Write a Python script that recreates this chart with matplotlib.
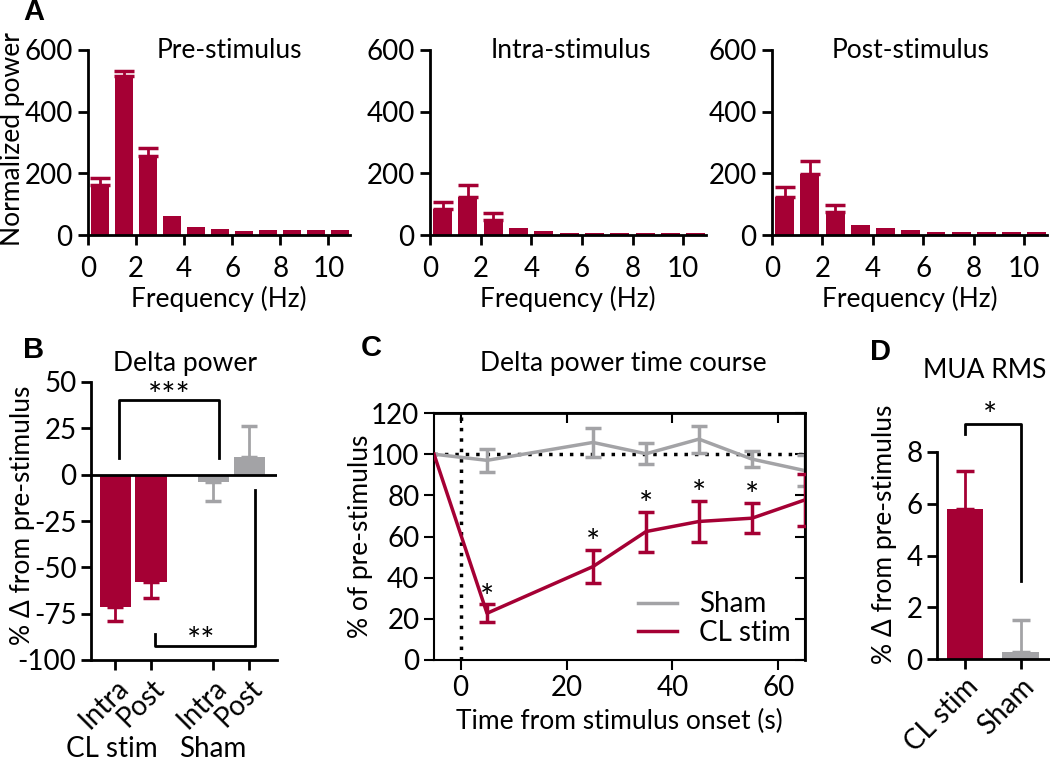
import numpy as np
import matplotlib
matplotlib.use('Agg')
import matplotlib.pyplot as plt
import matplotlib.transforms as mtransforms

plt.rcParams['font.family'] = ['Lato', 'DejaVu Sans']
plt.rcParams['font.size'] = 19
plt.rcParams['axes.unicode_minus'] = False
plt.rcParams['axes.linewidth'] = 2
plt.rcParams['xtick.major.width'] = 2
plt.rcParams['ytick.major.width'] = 2
plt.rcParams['xtick.major.size'] = 7
plt.rcParams['ytick.major.size'] = 7
plt.rcParams['xtick.labelsize'] = 20
plt.rcParams['ytick.labelsize'] = 20

RED = '#A50034'
GRAY = '#A3A3A6'
STAR_SIZE = 24

# --- data -------------------------------------------------------------
freq_bins = [0.5, 1.5, 2.5, 3.5, 4.5, 5.5, 6.5, 7.5, 8.5, 9.5, 10.5]
pre_power = [162, 516, 257, 63, 27, 18, 13, 16, 16, 16, 16]
pre_err = [22, 16, 24, 0, 0, 0, 0, 0, 0, 0, 0]
intra_power = [83, 124, 48, 22, 14, 5, 5, 5, 5, 5, 5]
intra_err = [25, 38, 24, 0, 0, 0, 0, 0, 0, 0, 0]
post_power = [124, 198, 75, 31, 22, 15, 11, 11, 11, 11, 11]
post_err = [31, 43, 22, 0, 0, 0, 0, 0, 0, 0, 0]

delta_labels = ['Intra', 'Post', 'Intra', 'Post']
delta_pos = [0, 1, 2.75, 3.75]
delta_vals = [-71.5, -58, -4, 9.3]
delta_err = [7.5, 8.6, 10.4, 16.7]
delta_groups = ['CL stim', 'CL stim', 'Sham', 'Sham']

time_s = [-5, 5, 25, 35, 45, 55, 65]
sham_mean = [100, 97, 105.7, 100.2, 107.3, 97.6, 92]
sham_err = [0, 5.7, 7, 5, 6.5, 3.9, 7.5]
cl_mean = [100, 22.7, 45.4, 62.4, 67.3, 68.9, 77.8]
cl_err = [0, 4.3, 8.2, 9.7, 10, 7.4, 12.8]
sig_times = [5, 25, 35, 45, 55]

mua_labels = ['CL stim', 'Sham']
mua_vals = [5.78, 0.26]
mua_err = [1.47, 1.23]

W, H = 1050, 760
fig = plt.figure(figsize=(W / 100, H / 100), dpi=100)


def px_rect(l, t, r, b):
    return [l / W, 1 - b / H, (r - l) / W, (b - t) / H]


def fig_xy(x, y):
    return x / W, 1 - y / H


def ylabel_at(ax, text, xpx, yfrac=0.5):
    tr = mtransforms.blended_transform_factory(fig.transFigure, ax.transAxes)
    ax.set_ylabel(text)
    ax.yaxis.set_label_coords(xpx / W, yfrac, transform=tr)


def letter(s, x, y):
    fx, fy = fig_xy(x, y)
    fig.text(fx, fy, s, fontsize=21, fontweight='bold', family='Liberation Sans',
             ha='center', va='center')


def stars(ax, s, x, y, dy):
    ax.annotate(s, xy=(x, y), xytext=(0, dy), textcoords='offset points',
                ha='center', va='center', fontsize=STAR_SIZE, annotation_clip=False)


# --- panel A ------------------------------------------------------------
spectra = [('Pre-stimulus', pre_power, pre_err, (88, 350), 0.54),
           ('Intra-stimulus', intra_power, intra_err, (430, 706), 0.51),
           ('Post-stimulus', post_power, post_err, (772, 1047), 0.505)]
for i, (name, vals, err, (l, r), tx) in enumerate(spectra):
    ax = fig.add_axes(px_rect(l, 50, r, 235))
    ax.bar(freq_bins, vals, width=0.75, color=RED)
    ax.errorbar(freq_bins[:3], vals[:3], yerr=[[0] * 3, err[:3]], fmt='none',
                ecolor=RED, elinewidth=2, capsize=7, capthick=2.5)
    ax.set_xlim(0, 10.9)
    ax.set_ylim(0, 600)
    ax.set_xticks([0, 2, 4, 6, 8, 10])
    ax.set_yticks([0, 200, 400, 600])
    for s in ['top', 'right']:
        ax.spines[s].set_visible(False)
    ax.tick_params(axis='y', pad=4)
    ax.tick_params(axis='x', pad=8)
    ax.set_xlabel('Frequency (Hz)', labelpad=3)
    ax.text(tx, 1.0, name, transform=ax.transAxes, ha='center', va='center')
    if i == 0:
        ylabel_at(ax, 'Normalized power', 25, 0.52)
letter('A', 34, 12)

# --- panel B ------------------------------------------------------------
axb = fig.add_axes(px_rect(91, 382, 277, 660))
bcolors = [RED if g == 'CL stim' else GRAY for g in delta_groups]
axb.bar(delta_pos, delta_vals, width=0.87, color=bcolors)
for p, v, e, c in zip(delta_pos, delta_vals, delta_err, bcolors):
    yerr = [[e], [0]] if v < 0 else [[0], [e]]
    axb.errorbar([p], [v], yerr=yerr, fmt='none', ecolor=c, elinewidth=2,
                 capsize=6, capthick=2.5)
axb.axhline(0, color='black', lw=2)
axb.set_xlim(-0.68, 4.53)
axb.set_ylim(-100, 50)
axb.set_yticks([50, 25, 0, -25, -50, -75, -100])
axb.set_xticks(delta_pos)
axb.set_xticklabels(delta_labels, rotation=45, ha='right', rotation_mode='anchor')
for s in ['top', 'right']:
    axb.spines[s].set_visible(False)
axb.plot([0.1, 0.1, 2.9, 2.9], [9, 40.5, 40.5, 9], color='black', lw=2)
stars(axb, '***', 1.5, 40.5, 2)
axb.plot([1.1, 1.1, 3.9, 3.9], [-86, -92.7, -92.7, -8.5], color='black', lw=2)
stars(axb, '**', 2.4, -92.7, 3)
ylabel_at(axb, '% Δ from pre-stimulus', 35, 0.52)
for gname, gx in [('CL stim', 112), ('Sham', 213)]:
    fx, fy = fig_xy(gx, 749)
    fig.text(fx, fy, gname, ha='center', va='center', fontsize=20)
fx, fy = fig_xy(185, 363)
fig.text(fx, fy, 'Delta power', ha='center', va='center')
letter('B', 34, 350)

# --- panel C ------------------------------------------------------------
axc = fig.add_axes(px_rect(434, 413, 805, 660))
for s in axc.spines.values():
    s.set_linewidth(1.5)
axc.axhline(100, color='black', lw=2.5, ls=(0, (1, 2)), zorder=1)
axc.axvline(0, color='black', lw=2.5, ls=(0, (1, 2)), zorder=1)
axc.plot(time_s, sham_mean, color=GRAY, lw=2.5, label='Sham', zorder=2)
axc.errorbar(time_s[1:], sham_mean[1:], yerr=sham_err[1:], fmt='none',
             ecolor=GRAY, elinewidth=2.5, capsize=5.5, capthick=2.5, zorder=2)
axc.plot(time_s, cl_mean, color=RED, lw=2.5, label='CL stim', zorder=3)
axc.errorbar(time_s[1:], cl_mean[1:], yerr=cl_err[1:], fmt='none',
             ecolor=RED, elinewidth=2.5, capsize=5.5, capthick=2.5, zorder=3)
for t in sig_times:
    k = time_s.index(t)
    stars(axc, '*', t, cl_mean[k] + cl_err[k], 4)
axc.set_xlim(-5, 65)
axc.set_ylim(0, 120)
axc.set_xticks([0, 20, 40, 60])
axc.set_yticks(range(0, 121, 20))
axc.tick_params(width=1.5)
secx = axc.secondary_xaxis('top')
secx.set_xticks([0, 20, 40, 60])
secx.tick_params(direction='in', labeltop=False, width=1.5, length=7)
secy = axc.secondary_yaxis('right')
secy.set_yticks(range(0, 121, 20))
secy.tick_params(direction='in', labelright=False, width=1.5, length=7)
axc.set_xlabel('Time from stimulus onset (s)', labelpad=6)
ylabel_at(axc, '% of pre-stimulus', 373)
axc.legend(loc='lower right', frameon=False, handlelength=1.4, fontsize=20,
           borderaxespad=0.1, labelspacing=0.1, bbox_to_anchor=(1.0, 0.0))
fx, fy = fig_xy(623, 363)
fig.text(fx, fy, 'Delta power time course', ha='center', va='center')
letter('C', 371, 348)

# --- panel D ------------------------------------------------------------
axd = fig.add_axes(px_rect(937, 452, 1050, 659))
axd.bar([0, 1], mua_vals, width=0.66, color=[RED, GRAY])
for p, v, e, c in zip([0, 1], mua_vals, mua_err, [RED, GRAY]):
    axd.errorbar([p], [v], yerr=[[0], [e]], fmt='none', ecolor=c, elinewidth=2,
                 capsize=6.5, capthick=2.5)
axd.set_xlim(-0.5, 1.52)
axd.set_ylim(0, 8)
axd.set_yticks([0, 2, 4, 6, 8])
axd.set_xticks([0, 1])
axd.set_xticklabels(mua_labels, rotation=45, ha='right', rotation_mode='anchor')
for s in ['top', 'right']:
    axd.spines[s].set_visible(False)
axd.plot([0, 0, 1, 1], [8.7, 9.09, 9.09, 3.0], color='black', lw=2, clip_on=False)
stars(axd, '*', 0.45, 9.09, 5)
ylabel_at(axd, '% Δ from pre-stimulus', 897, 0.60)
fx, fy = fig_xy(985, 370)
fig.text(fx, fy, 'MUA RMS', ha='center', va='center')
letter('D', 880, 352)

fig.savefig('out.png', dpi=100)
